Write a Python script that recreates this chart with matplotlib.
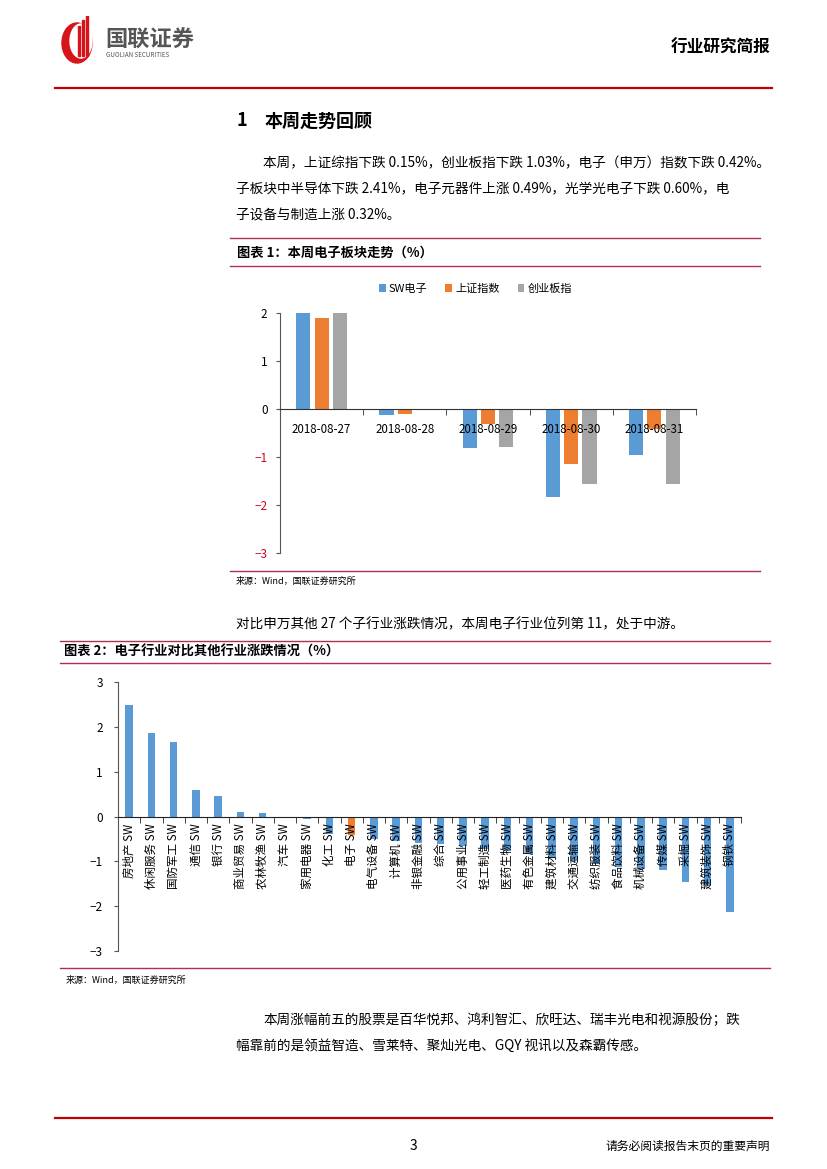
import matplotlib
matplotlib.use("Agg")
import matplotlib.pyplot as plt
from matplotlib.lines import Line2D
from matplotlib.patches import Ellipse, Rectangle
import numpy as np

plt.rcParams['font.family'] = ['Noto Sans CJK SC', 'DejaVu Sans']

# chart 1 data
dates = ["2018-08-27", "2018-08-28", "2018-08-29", "2018-08-30", "2018-08-31"]
sw_dianzi = [2.0, -0.12, -0.82, -1.84, -0.96]
shangzheng = [1.88, -0.10, -0.31, -1.14, -0.42]
chuangye = [2.0, -0.01, -0.80, -1.57, -1.56]

# chart 2 data
hangye = ["房地产", "休闲服务", "国防军工", "通信", "银行", "商业贸易", "农林牧渔",
          "汽车", "家用电器", "化工", "电子", "电气设备", "计算机", "非银金融",
          "综合", "公用事业", "轻工制造", "医药生物", "有色金属", "建筑材料",
          "交通运输", "纺织服装", "食品饮料", "机械设备", "传媒", "采掘",
          "建筑装饰", "钢铁"]
zhangdie = [2.49, 1.86, 1.66, 0.60, 0.45, 0.11, 0.07, -0.02, -0.05, -0.40,
            -0.42, -0.50, -0.55, -0.58, -0.62, -0.66, -0.72, -0.76, -0.84,
            -0.92, -1.00, -1.06, -1.12, -1.16, -1.19, -1.47, -1.56, -2.13]

blue = "#5B9BD5"
orange = "#ED7D31"
gray = "#A5A5A5"
rule = "#B0304F"

W, H = 827, 1169
fig = plt.figure(figsize=(8.27, 11.69), dpi=100)


def fx(x):
    return x / W


def fy(y):
    return 1 - y / H


def hline(x0, x1, y, color, lw):
    fig.add_artist(Line2D([fx(x0), fx(x1)], [fy(y), fy(y)], color=color, lw=lw))


def txt(x, y, s, **kw):
    fig.text(fx(x), fy(y), s, va="center", **kw)


# header
logo = fig.add_axes([fx(58), fy(64), 44 / W, 48 / H])
logo.set_xlim(0, 44)
logo.set_ylim(0, 48)
logo.axis("off")
logo.add_patch(Ellipse((19, 21), 30, 40, color="#D7141A"))
logo.add_patch(Ellipse((23, 23), 22, 34, color="white"))
for i, h in enumerate([30, 36, 42]):
    logo.add_patch(Rectangle((20 + i * 4, 8), 2.2, h, color="#D7141A"))
txt(105, 40, "国联证券", fontsize=16, fontweight="bold", color="#555555")
txt(106, 55, "GUOLIAN SECURITIES", fontsize=4.5, color="#555555")
txt(770, 48, "行业研究简报", fontsize=12, fontweight="bold", ha="right")
hline(55, 772, 88, "#C00000", 1.6)

# section text
txt(236, 121, "1", fontsize=13, fontweight="bold")
txt(265, 121, "本周走势回顾", fontsize=13, fontweight="bold")
txt(263, 163, "本周，上证综指下跌 0.15%，创业板指下跌 1.03%，电子（申万）指数下跌 0.42%。", fontsize=9.8)
txt(236, 189, "子板块中半导体下跌 2.41%，电子元器件上涨 0.49%，光学光电子下跌 0.60%，电", fontsize=9.8)
txt(236, 215, "子设备与制造上涨 0.32%。", fontsize=9.8)

hline(230, 760, 238, rule, 1.0)
txt(237, 253, "图表 1：本周电子板块走势（%）", fontsize=9.5, fontweight="bold")
hline(230, 760, 266, rule, 1.0)

# chart 1
ax1 = fig.add_axes([fx(280), fy(553), (696 - 280) / W, (553 - 312.7) / H])
x = np.arange(len(dates))
ax1.bar(x - 0.22, sw_dianzi, 0.17, color=blue, label="SW电子")
ax1.bar(x, shangzheng, 0.17, color=orange, label="上证指数")
ax1.bar(x + 0.22, chuangye, 0.17, color=gray, label="创业板指")
ax1.set_xlim(-0.5, len(dates) - 0.5)
ax1.set_ylim(-3, 2)
for s in ["top", "right"]:
    ax1.spines[s].set_visible(False)
ax1.spines["bottom"].set_position(("data", 0))
ax1.spines["bottom"].set_color("#333333")
ax1.spines["left"].set_color("#555555")
ax1.set_xticks(x)
ax1.set_xticklabels(dates, fontsize=8.3)
ax1.set_xticks(np.arange(-0.5, len(dates)), minor=True)
ax1.tick_params(axis="x", which="major", length=0, pad=10)
ax1.tick_params(axis="x", which="minor", length=4, direction="out", color="#333333")
ax1.set_yticks([-3, -2, -1, 0, 1, 2])
ax1.set_yticklabels(["−3", "−2", "−1", "0", "1", "2"], fontsize=8.5)
for lab, v in zip(ax1.get_yticklabels(), [-3, -2, -1, 0, 1, 2]):
    lab.set_color("#D0021B" if v < 0 else "black")
ax1.tick_params(axis="y", length=3, color="#555555", pad=6)
ax1.patch.set_alpha(0)
ax1.legend(loc="center", bbox_to_anchor=(0.47, 1.1), ncol=3, frameon=False,
           fontsize=8, handlelength=0.6, handleheight=0.6, handletextpad=0.3,
           columnspacing=1.6)

hline(230, 760, 571, rule, 1.0)
txt(236, 581, "来源：Wind，国联证券研究所", fontsize=6.5)

txt(236, 624, "对比申万其他 27 个子行业涨跌情况，本周电子行业位列第 11，处于中游。", fontsize=9.8)

hline(60, 770, 641, rule, 1.0)
txt(64, 652, "图表 2：电子行业对比其他行业涨跌情况（%）", fontsize=9.5, fontweight="bold")
hline(60, 770, 663, rule, 1.0)

# chart 2
ax2 = fig.add_axes([fx(118), fy(951), (741 - 118) / W, (951 - 682) / H])
x2 = np.arange(len(hangye))
colors2 = [orange if h == "电子" else blue for h in hangye]
ax2.bar(x2, zhangdie, 0.33, color=colors2)
ax2.set_xlim(-0.5, len(hangye) - 0.5)
ax2.set_ylim(-3, 3)
for s in ["top", "right"]:
    ax2.spines[s].set_visible(False)
ax2.spines["bottom"].set_position(("data", 0))
ax2.spines["bottom"].set_color("#222222")
ax2.spines["left"].set_color("#555555")
ax2.set_xticks(x2)
ax2.set_xticklabels([h + " SW" for h in hangye], rotation=90, fontsize=8.3)
ax2.set_xticks(np.arange(-0.5, len(hangye)), minor=True)
ax2.tick_params(axis="x", which="major", length=0, pad=5)
ax2.tick_params(axis="x", which="minor", length=4, direction="out", color="#222222")
ax2.set_yticks([-3, -2, -1, 0, 1, 2, 3])
ax2.set_yticklabels(["−3", "−2", "−1", "0", "1", "2", "3"], fontsize=8.5)
ax2.tick_params(axis="y", length=3, color="#555555", pad=8)
ax2.patch.set_alpha(0)

hline(60, 770, 968, rule, 1.0)
txt(66, 980, "来源：Wind，国联证券研究所", fontsize=6.5)

txt(263, 1020, "本周涨幅前五的股票是百华悦邦、鸿利智汇、欣旺达、瑞丰光电和视源股份；跌", fontsize=9.8)
txt(236, 1046, "幅靠前的是领益智造、雪莱特、聚灿光电、GQY 视讯以及森霸传感。", fontsize=9.8)

# footer
hline(55, 772, 1118, "#C00000", 1.6)
txt(413, 1146, "3", fontsize=10, ha="center")
txt(770, 1146, "请务必阅读报告末页的重要声明", fontsize=8.5, ha="right")

fig.savefig("out.png", dpi=100)
